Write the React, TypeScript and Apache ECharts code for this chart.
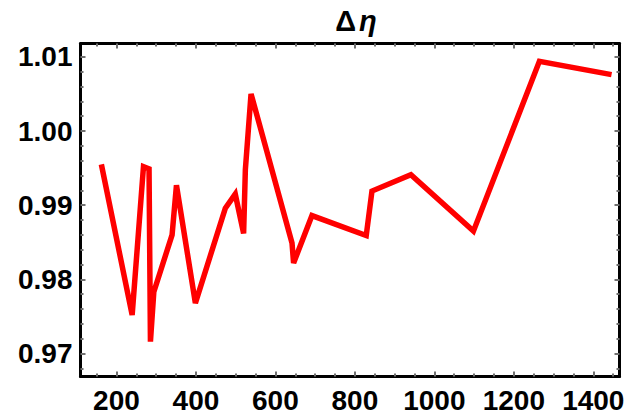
import React, { useEffect, useRef } from "react";
import * as echarts from "echarts";

const xValues = [162, 239.5, 268, 282, 285.5, 294, 340, 351, 398.6, 474, 499, 520, 524.4, 538.7, 641.8, 645.8, 692, 828.6, 843, 941, 1098.4, 1264.4, 1446];
const yValues = [0.9955, 0.9752, 0.9952, 0.9949, 0.9716, 0.9783, 0.986, 0.9927, 0.9768, 0.9896, 0.9915, 0.9862, 0.9948, 1.005, 0.9849, 0.9822, 0.9886, 0.9859, 0.9919, 0.9941, 0.9865, 1.0094, 1.0076];

const xMajorTicks = [200, 400, 600, 800, 1000, 1200, 1400];
const yMajorTicks = [0.97, 0.98, 0.99, 1.0, 1.01];

const X_MIN = 109.5;
const X_MAX = 1466;
const Y_MIN = 0.9669;
const Y_MAX = 1.0118;

const xMinorTicks: number[] = [];
for (let v = 150; v <= 1450; v += 50) if (v % 200 !== 0) xMinorTicks.push(v);
const yMinorTicks: number[] = [];
for (let i = 968; i <= 1010; i += 2) if (i % 10 !== 0) yMinorTicks.push(i / 1000);

const FONT = "'Liberation Sans', Arial, sans-serif";
const TICK_COLOR = "#707070";

function xAxisDef(position: "bottom" | "top", major: boolean, withLabels: boolean) {
  return {
    type: "value",
    position,
    min: X_MIN,
    max: X_MAX,
    splitLine: { show: false },
    axisLine: { show: major, lineStyle: { color: "#000", width: 3 } },
    axisTick: {
      show: true,
      inside: true,
      length: major ? 5 : 3,
      customValues: major ? xMajorTicks : xMinorTicks,
      lineStyle: { color: TICK_COLOR, width: 2 },
    },
    axisLabel: {
      show: withLabels,
      customValues: xMajorTicks,
      margin: 10,
      fontSize: 28,
      fontWeight: "bold",
      fontFamily: FONT,
      color: "#000",
      formatter: (v: number) => String(Math.round(v)),
    },
  };
}

function yAxisDef(position: "left" | "right", major: boolean, withLabels: boolean) {
  return {
    type: "value",
    position,
    min: Y_MIN,
    max: Y_MAX,
    splitLine: { show: false },
    axisLine: { show: major, lineStyle: { color: "#000", width: 3 } },
    axisTick: {
      show: true,
      inside: true,
      length: major ? 5 : 3,
      customValues: major ? yMajorTicks : yMinorTicks,
      lineStyle: { color: TICK_COLOR, width: 2 },
    },
    axisLabel: {
      show: withLabels,
      customValues: yMajorTicks,
      margin: 8,
      fontSize: 28,
      fontWeight: "bold",
      fontFamily: FONT,
      color: "#000",
      formatter: (v: number) => v.toFixed(2),
    },
  };
}

export default function App() {
  const ref = useRef<HTMLDivElement>(null);
  useEffect(() => {
    if (!ref.current) return;
    const chart = echarts.init(ref.current, null, { renderer: "svg" });
    chart.setOption({
      animation: false,
      backgroundColor: "#fff",
      title: {
        text: "{d|Δ}{e|η}",
        left: 351,
        top: 1,
        textAlign: "center",
        textStyle: {
          rich: {
            d: { fontSize: 29, fontWeight: "bold", fontFamily: FONT, color: "#000" },
            e: { fontSize: 29, fontWeight: "bold", fontStyle: "italic", fontFamily: FONT, color: "#000", padding: [0, 0, 0, 3] },
          },
        },
      },
      grid: { left: 80.5, right: 11.5, top: 43.5, bottom: 38.5 },
      xAxis: [
        xAxisDef("bottom", true, true),
        xAxisDef("top", true, false),
        xAxisDef("bottom", false, false),
        xAxisDef("top", false, false),
      ],
      yAxis: [
        yAxisDef("left", true, true),
        yAxisDef("right", true, false),
        yAxisDef("left", false, false),
        yAxisDef("right", false, false),
      ],
      series: [
        {
          type: "line",
          xAxisIndex: 0,
          yAxisIndex: 0,
          data: xValues.map((x, i) => [x, yValues[i]]),
          showSymbol: false,
          symbol: "none",
          lineStyle: { color: "#ff0000", width: 5.5, join: "miter" },
          z: 1,
        },
      ],
    });
    return () => chart.dispose();
  }, []);
  return (
    <div
      ref={ref}
      style={{ position: "fixed", left: 0, top: 0, width: 631, height: 415 }}
    />
  );
}
